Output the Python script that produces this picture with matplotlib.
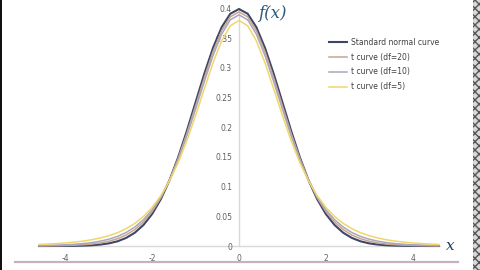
import numpy as np
import matplotlib.pyplot as plt
from matplotlib.lines import Line2D
from matplotlib.patches import Rectangle

# x grid of the plotted points (-4.6 .. 4.6, step 0.2)
x = np.linspace(-4.6, 4.6, 47)

# density values, from x = -4.6 to 4.6
normal = [0.0000, 0.0000, 0.0001, 0.0001, 0.0003, 0.0006, 0.0012, 0.0024, 0.0044, 0.0079,
          0.0136, 0.0224, 0.0355, 0.0540, 0.0790, 0.1109, 0.1497, 0.1942, 0.2420, 0.2897,
          0.3332, 0.3683, 0.3910, 0.3989, 0.3910, 0.3683, 0.3332, 0.2897, 0.2420, 0.1942,
          0.1497, 0.1109, 0.0790, 0.0540, 0.0355, 0.0224, 0.0136, 0.0079, 0.0044, 0.0024,
          0.0012, 0.0006, 0.0003, 0.0001, 0.0001, 0.0000, 0.0000]
t20 = [0.0002, 0.0003, 0.0005, 0.0008, 0.0013, 0.0021, 0.0033, 0.0051, 0.0080, 0.0122,
       0.0185, 0.0276, 0.0405, 0.0581, 0.0814, 0.1112, 0.1476, 0.1899, 0.2360, 0.2830,
       0.3267, 0.3624, 0.3858, 0.3940, 0.3858, 0.3624, 0.3267, 0.2830, 0.2360, 0.1899,
       0.1476, 0.1112, 0.0814, 0.0581, 0.0405, 0.0276, 0.0185, 0.0122, 0.0080, 0.0051,
       0.0033, 0.0021, 0.0013, 0.0008, 0.0005, 0.0003, 0.0002]
t10 = [0.0008, 0.0010, 0.0015, 0.0020, 0.0029, 0.0040, 0.0057, 0.0081, 0.0114, 0.0161,
       0.0227, 0.0319, 0.0444, 0.0611, 0.0831, 0.1111, 0.1454, 0.1856, 0.2304, 0.2766,
       0.3203, 0.3566, 0.3807, 0.3891, 0.3807, 0.3566, 0.3203, 0.2766, 0.2304, 0.1856,
       0.1454, 0.1111, 0.0831, 0.0611, 0.0444, 0.0319, 0.0227, 0.0161, 0.0114, 0.0081,
       0.0057, 0.0040, 0.0029, 0.0020, 0.0015, 0.0010, 0.0008]
t5 = [0.0027, 0.0033, 0.0041, 0.0051, 0.0065, 0.0082, 0.0105, 0.0134, 0.0173, 0.0224,
      0.0292, 0.0381, 0.0498, 0.0651, 0.0848, 0.1098, 0.1407, 0.1777, 0.2197, 0.2645,
      0.3081, 0.3454, 0.3707, 0.3796, 0.3707, 0.3454, 0.3081, 0.2645, 0.2197, 0.1777,
      0.1407, 0.1098, 0.0848, 0.0651, 0.0498, 0.0381, 0.0292, 0.0224, 0.0173, 0.0134,
      0.0105, 0.0082, 0.0065, 0.0051, 0.0041, 0.0033, 0.0027]

labels = ["Standard normal curve", "t curve (df=20)", "t curve (df=10)", "t curve (df=5)"]
colors = ["#3e4668", "#c7a48e", "#a9a7ba", "#f0d66a"]
widths = [1.5, 1.1, 1.1, 1.1]

xticks = [-4, -2, 0, 2, 4]
yticks = [0, 0.05, 0.1, 0.15, 0.2, 0.25, 0.3, 0.35, 0.4]
yticklabels = ["0", "0.05", "0.1", "0.15", "0.2", "0.25", "0.3", "0.35", "0.4"]

fig = plt.figure(figsize=(4.8, 2.7), dpi=100)
ax = fig.add_axes([0, 0, 1, 1])

for ys, lab, c, w in zip([normal, t20, t10, t5], labels, colors, widths):
    ax.plot(x, ys, color=c, lw=w, label=lab)

ax.set_xlim(-5.507, 5.553)
ax.set_ylim(-0.0404, 0.4141)

for s in ["top", "right"]:
    ax.spines[s].set_visible(False)
ax.spines["left"].set_position(("data", 0))
ax.spines["bottom"].set_position(("data", 0))
ax.spines["left"].set_bounds(0, 0.4)
ax.spines["bottom"].set_bounds(-4.63, 4.63)
for s in ["left", "bottom"]:
    ax.spines[s].set_color("#d9d9d9")
    ax.spines[s].set_linewidth(1.0)
    ax.spines[s].set_zorder(0)

ax.set_xticks(xticks)
ax.set_xticklabels([str(v) for v in xticks])
ax.set_yticks(yticks)
ax.set_yticklabels(yticklabels)
ax.tick_params(axis="x", length=0, pad=6, labelsize=5.5, labelcolor="#606060")
ax.tick_params(axis="y", length=0, pad=5, labelsize=5.5, labelcolor="#606060")

ax.legend(loc="upper left", bbox_to_anchor=(329 / 480, 1 - 38 / 270), frameon=False,
          fontsize=5.5, handlelength=2.4, handletextpad=0.45, labelspacing=0.75,
          labelcolor="#404040", borderpad=0, borderaxespad=0)

ax.text(258 / 480, 1 - 13 / 270, "f(x)", transform=fig.transFigure, fontsize=12,
        family="DejaVu Serif", style="italic", color="#2e5878", va="center", ha="left")
ax.text(446 / 480, 1 - 246 / 270, "x", transform=fig.transFigure, fontsize=11,
        family="DejaVu Serif", style="italic", color="#1f3b5a", va="center", ha="left")

# screenshot decorations: underline and edge strips
fig.add_artist(Line2D([15 / 480, 458 / 480], [1 - 262 / 270] * 2, color="#c8b0bf", lw=1.6))
fig.add_artist(Rectangle((473 / 480, 0), 7 / 480, 1, transform=fig.transFigure,
                         facecolor="#d8d8d8", edgecolor="#555555", hatch="xxxx", lw=0))
fig.add_artist(Rectangle((0, 0), 2 / 480, 1, transform=fig.transFigure,
                         facecolor="#111111", lw=0))

fig.savefig("out.png", dpi=100)
